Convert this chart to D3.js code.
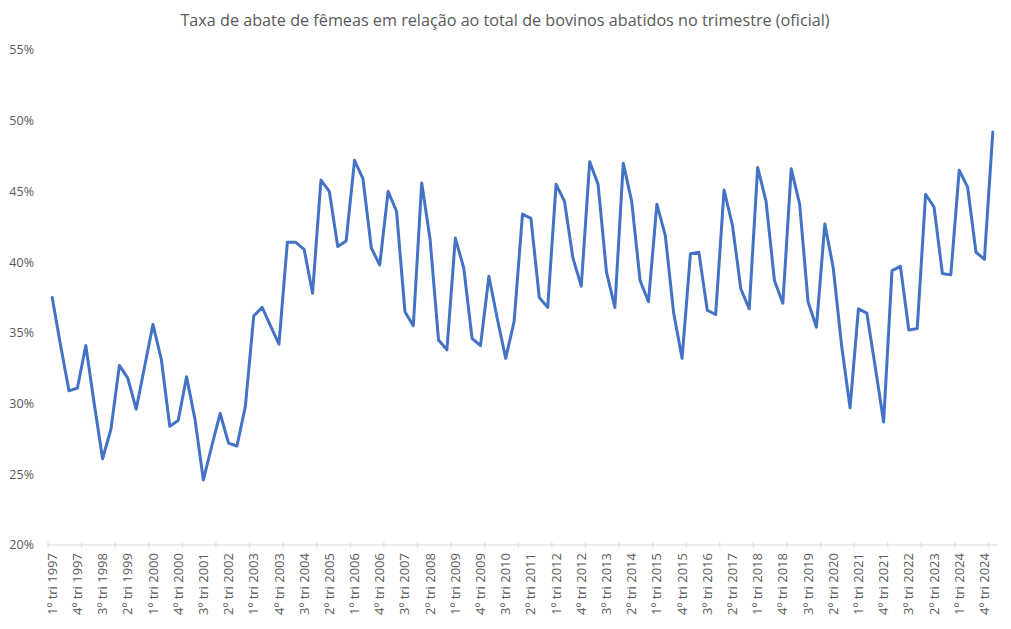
<!DOCTYPE html>
<html>
<head>
<meta charset="utf-8">
<script src="https://cdn.jsdelivr.net/npm/d3@7"></script>
<style>
  body { margin: 0; background: #fff; }
  text { font-family: "Open Sans", "Noto Sans", sans-serif; fill: #595959; }
</style>
</head>
<body>
<script>
// quarters from 1º tri 1997 to 1º tri 2025
const years = d3.range(1997, 2026);
const quarters = [];
years.forEach(y => {
  for (let q = 1; q <= 4; q++) {
    if (y === 2025 && q > 1) break;
    quarters.push(q + 'º tri ' + y);
  }
});

// share of females in total cattle slaughtered (%)
const values = [
  37.5, 34.1, 30.9, 31.1, 34.1, 30.0, 26.1, 28.2,
  32.7, 31.8, 29.6, 32.6, 35.6, 33.1, 28.4, 28.8,
  31.9, 28.9, 24.6, 27.0, 29.3, 27.2, 27.0, 29.8,
  36.2, 36.8, 35.5, 34.2, 41.4, 41.4, 40.9, 37.8,
  45.8, 45.0, 41.1, 41.5, 47.2, 45.9, 41.0, 39.8,
  45.0, 43.6, 36.5, 35.5, 45.6, 41.6, 34.5, 33.8,
  41.7, 39.6, 34.6, 34.1, 39.0, 36.0, 33.2, 35.8,
  43.4, 43.1, 37.5, 36.8, 45.5, 44.3, 40.3, 38.3,
  47.1, 45.5, 39.3, 36.8, 47.0, 44.3, 38.7, 37.2,
  44.1, 41.9, 36.4, 33.2, 40.6, 40.7, 36.6, 36.3,
  45.1, 42.6, 38.1, 36.7, 46.7, 44.3, 38.7, 37.1,
  46.6, 44.1, 37.2, 35.4, 42.7, 39.6, 34.1, 29.7,
  36.7, 36.4, 32.6, 28.7, 39.4, 39.7, 35.2, 35.3,
  44.8, 43.9, 39.2, 39.1, 46.5, 45.3, 40.7, 40.2,
  49.2
];

const yTicks = [20, 25, 30, 35, 40, 45, 50, 55];

const title = 'Taxa de abate de fêmeas em relação ao total de bovinos abatidos no trimestre (oficial)';

let width = 1011,
    height = 629;

let margin = { top: 50, bottom: 84, left: 48, right: 14 };

let svg = d3.select('body')
  .append('svg')
  .attr('width', width)
  .attr('height', height);

svg.append('rect')
  .attr('width', width)
  .attr('height', height)
  .attr('fill', '#fff');

// Title
svg.append('text')
  .attr('x', 505)
  .attr('y', 26)
  .attr('text-anchor', 'middle')
  .style('font-size', '16.2px')
  .text(title);

// Scales
let xScale = d3.scaleBand()
  .domain(quarters)
  .range([margin.left, width - margin.right])
  .paddingInner(0)
  .paddingOuter(0);

let yScale = d3.scaleLinear()
  .domain([20, 55])
  .range([height - margin.bottom, margin.top]);

// Y labels (no axis line, no gridlines)
svg.append('g')
  .selectAll('text')
  .data(yTicks)
  .enter()
  .append('text')
  .attr('x', 34)
  .attr('y', d => yScale(d))
  .attr('dy', '0.35em')
  .attr('text-anchor', 'end')
  .style('font-size', '12.5px')
  .text(d => d + '%');

// X axis line and ticks
let y0 = yScale(20);
svg.append('line')
  .attr('x1', margin.left)
  .attr('x2', width - margin.right)
  .attr('y1', y0)
  .attr('y2', y0)
  .attr('stroke', '#d9d9d9')
  .attr('stroke-width', 1);

let tickIdx = d3.range(0, quarters.length, 4);
svg.append('g')
  .selectAll('line')
  .data(tickIdx)
  .enter()
  .append('line')
  .attr('x1', i => xScale(quarters[i]))
  .attr('x2', i => xScale(quarters[i]))
  .attr('y1', y0 - 3)
  .attr('y2', y0 + 3)
  .attr('stroke', '#d9d9d9');

// Category labels, every 3rd quarter
let labelIdx = d3.range(0, quarters.length, 3);
svg.append('g')
  .selectAll('text')
  .data(labelIdx)
  .enter()
  .append('text')
  .attr('transform', i => `translate(${xScale(quarters[i]) + xScale.bandwidth() / 2}, ${y0 + 8}) rotate(-90)`)
  .attr('dy', '0.35em')
  .attr('text-anchor', 'end')
  .style('font-size', '13px')
  .text(i => quarters[i]);

// Line
let line = d3.line()
  .x((d, i) => xScale(quarters[i]) + xScale.bandwidth() / 2)
  .y(d => yScale(d));

svg.append('path')
  .datum(values)
  .attr('d', line)
  .attr('fill', 'none')
  .attr('stroke', '#4472c4')
  .attr('stroke-width', 3)
  .attr('stroke-linejoin', 'round')
  .attr('stroke-linecap', 'round');
</script>
</body>
</html>
